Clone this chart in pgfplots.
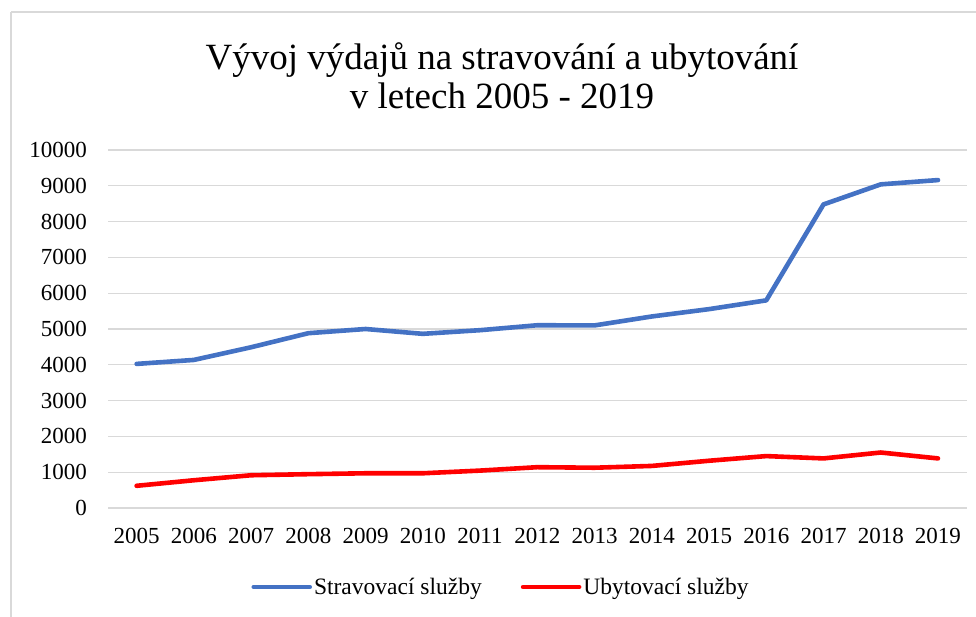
\documentclass[border=0pt]{standalone}
\usepackage{fontspec}
\setmainfont{Liberation Serif}
\usepackage{pgfplots}
\pgfplotsset{compat=1.18}
\definecolor{blueline}{HTML}{4472C4}
\definecolor{redline}{HTML}{FF0000}
\definecolor{gridc}{HTML}{D9D9D9}
\definecolor{borderc}{HTML}{D9D9D9}
\begin{document}
\begin{tikzpicture}[x=1pt,y=1pt]
\path[use as bounding box] (0,0) rectangle (976,616);
\begin{scope}
\clip (0,0) rectangle (976,616);
\draw[borderc, line width=1.3pt] (11,604) -- (990,604);
\draw[borderc, line width=1.3pt] (11,604) -- (11,-10);
\end{scope}
\node[anchor=base, font=\fontsize{37}{40}\selectfont] at (502,546) {Vývoj výdajů na stravování a ubytování};
\node[anchor=base, font=\fontsize{37}{40}\selectfont] at (502,507) {v letech 2005 - 2019};
\begin{axis}[
  at={(108pt,108pt)}, anchor=south west,
  scale only axis, width=858.6pt, height=358pt,
  xmin=-0.5, xmax=14.5, ymin=0, ymax=10000,
  xtick={0,...,14},
  xticklabels={2005,2006,2007,2008,2009,2010,2011,2012,2013,2014,2015,2016,2017,2018,2019},
  ytick={0,1000,...,10000},
  /pgf/number format/assume math mode=true,
  /pgf/number format/set thousands separator={},
  scaled y ticks=false,
  ymajorgrids, grid style={gridc, line width=1.3pt},
  axis line style={draw=none},
  major tick length=0pt,
  tick label style={font=\fontsize{23}{26}\selectfont, inner sep=0pt},
  yticklabel style={anchor=east, xshift=-21pt},
  xticklabel style={anchor=north, yshift=-20pt},
  legend columns=2,
  legend style={at={(0.4577,-0.2207)}, anchor=center, draw=none, fill=none,
    font=\fontsize{23.5}{26}\selectfont, inner sep=0pt,
    /tikz/every even column/.append style={column sep=37pt}},
  legend cell align=left,
  legend image code/.code={\draw[#1, line cap=round] (0pt,0pt) -- (56pt,0pt);},
]
\addplot[blueline, line width=4.6pt, line cap=round, line join=round] coordinates {
(0,4025) (1,4136) (2,4490) (3,4883) (4,5000) (5,4865) (6,4967) (7,5105) (8,5100) (9,5350) (10,5555) (11,5800) (12,8480) (13,9040) (14,9160)};
\addlegendentry{Stravovací služby}
\addplot[redline, line width=4.6pt, line cap=round, line join=round] coordinates {
(0,620) (1,775) (2,915) (3,945) (4,970) (5,970) (6,1045) (7,1140) (8,1125) (9,1175) (10,1320) (11,1450) (12,1385) (13,1550) (14,1385)};
\addlegendentry{Ubytovací služby}
\end{axis}
\end{tikzpicture}
\end{document}
